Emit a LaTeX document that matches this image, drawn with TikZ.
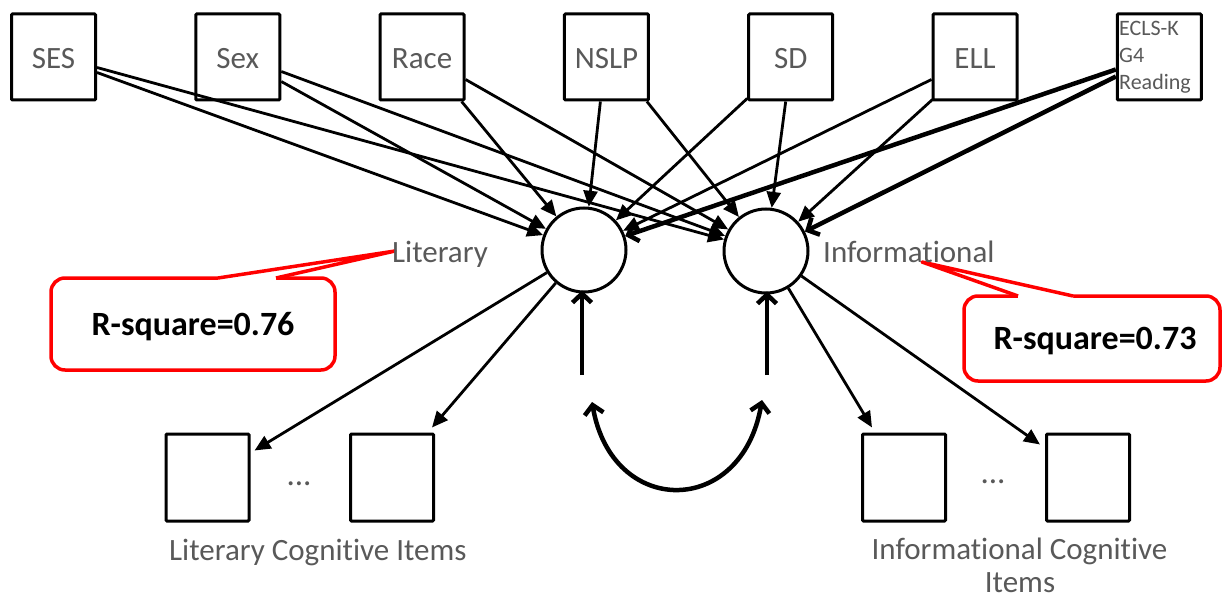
\documentclass[tikz,border=0pt]{standalone}
\usepackage{fontspec}
\setmainfont[Ligatures=NoCommon]{Carlito}
\usetikzlibrary{arrows.meta,calc}
\definecolor{txtgray}{RGB}{89,89,89}
\definecolor{callred}{RGB}{255,0,0}
\begin{document}
\begin{tikzpicture}[x=1pt,y=-1pt,
  topbox/.style={draw, line width=3pt, rounded corners=1pt, minimum width=84pt, minimum height=86pt, inner sep=0pt,
    text=txtgray, font=\fontsize{31}{37}\selectfont, text height=24pt, text depth=0pt},
  itembox/.style={draw, line width=3pt, rounded corners=1pt, minimum width=83pt, minimum height=87pt, inner sep=0pt},
  latent/.style={draw, circle, line width=3pt, minimum size=84pt, inner sep=0pt},
  lbl/.style={text=txtgray, font=\fontsize{31}{37}\selectfont, inner sep=0pt},
  conn/.style={line width=2.8pt, -{Triangle[length=16pt,width=14pt]}},
  thickconn/.style={line width=4.5pt, -{Straight Barb[length=9pt,width=19pt]}},
  callout/.style={draw=callred, line width=3.5pt, fill=white, rounded corners=14pt},
  pointer/.style={draw=callred, line width=3.5pt, line join=round},
  rsq/.style={font=\fontsize{34}{40}\selectfont\bfseries, inner sep=0pt}
]
\useasboundingbox (0,0) rectangle (1224,599);
\fill[white] (0,0) rectangle (1224,599);

% top observed variables
\node[topbox] (ses)  at (53.5,57)  {SES};
\node[topbox] (sex)  at (237.8,57) {Sex};
\node[topbox] (race) at (422.1,57) {Race};
\node[topbox] (nslp) at (606.4,57) {NSLP};
\node[topbox] (sd)   at (790.7,57) {SD};
\node[topbox] (ell)  at (975,57)   {ELL};
\node[topbox] (ecls) at (1159.3,57) {};
\node[anchor=north west, inner sep=0pt, align=left, text=txtgray,
      font=\fontsize{22}{27}\selectfont] (eclstxt) at (1119,21) {ECLS-K\\G4\\Reading};

% latent factors
\node[latent] (lit) at (584,250) {};
\node[latent] (inf) at (766,251) {};

% item boxes
\node[itembox] (box1) at (207.5,477.5) {};
\node[itembox] (box2) at (392,477.5) {};
\node[itembox] (box3) at (904,477.5) {};
\node[itembox] (box4) at (1088,477.5) {};

% predictors -> factors
\draw[conn] ($(ses.north east)+(0,55)$) -- (inf);
\draw[conn] ($(ses.north east)+(0,60)$) -- (lit);
\draw[conn] ($(sex.north east)+(0,59)$) -- (inf);
\draw[conn] ($(sex.north east)+(0,69)$) -- (lit);
\draw[conn] ($(race.north east)+(0,67)$) -- (inf);
\draw[conn] ($(race.south east)+(-4,0)$) -- (lit);
\draw[conn] ($(nslp.south)+(-6,0)$) -- (lit);
\draw[conn] ($(nslp.south east)+(-3,0)$) -- (inf);
\draw[conn] ($(sd.south west)+(0,-3)$) -- (lit);
\draw[conn] ($(sd.south)+(-5,0)$) -- (inf);
\draw[conn] ($(ell.north west)+(0,67)$) -- (lit);
\draw[conn] ($(ell.south west)+(1,-2)$) -- (inf);
\draw[thickconn] ($(ecls.north west)+(0,57)$) -- (lit);
\draw[thickconn] ($(ecls.north west)+(0,64)$) -- (inf);

% factors -> items
\draw[conn] (lit) -- ($(box1.north east)+(4,18)$);
\draw[conn] (lit) -- ($(box2.north east)+(-3,-5)$);
\draw[conn] (inf) -- ($(box3.north west)+(11,-5)$);
\draw[conn] (inf) -- ($(box4.north west)+(-5,12)$);

% residual arrows and covariance
\coordinate (vl) at (582,375);
\coordinate (vr) at (767,375);
\draw[thickconn, shorten >=-3pt] (vl) -- (vl |- lit.south);
\draw[thickconn, shorten >=-3pt] (vr) -- (vr |- inf.south);
\coordinate (cl) at (592,402);
\coordinate (cr) at (762,400);
\draw[line width=4.5pt, {Straight Barb[length=9pt,width=19pt]}-{Straight Barb[length=9pt,width=19pt]}]
  (cl) .. controls (612,518) and (742,518) .. (cr);

% callout 1
\draw[callout] (51,278) rectangle (335,370);
\fill[white] (218,278) -- (395,251) -- (276,278) -- (276,281) -- (218,281) -- cycle;
\draw[pointer] (218,278) -- (395,251) -- (276,278);
\node[rsq, anchor=base] (rsq1) at (193,335) {R-square=0.76};

% callout 2
\draw[callout] (964,296) rectangle (1220,381);
\fill[white] (1018,296) -- (922,262) -- (1073,296) -- (1073,299) -- (1018,299) -- cycle;
\draw[pointer] (1018,296) -- (922,262) -- (1073,296);
\node[rsq, anchor=base] (rsq2) at (1095,349) {R-square=0.73};

% labels
\node[lbl, anchor=base] (litlbl) at (440,262) {Literary};
\node[lbl, anchor=base west] (inflbl) at (823,262) {Informational};
\node[lbl, anchor=base, font=\fontsize{33}{37}\selectfont] (dots1) at (299,485) {...};
\node[lbl, anchor=base, font=\fontsize{33}{37}\selectfont] (dots2) at (993,483) {...};
\node[lbl, anchor=base west] (lititems) at (169,560) {Literary Cognitive Items};
\node[lbl, anchor=base] (infitems1) at (1019.5,559) {Informational Cognitive};
\node[lbl, anchor=base] (infitems2) at (1020,592) {Items};
\end{tikzpicture}
\end{document}
